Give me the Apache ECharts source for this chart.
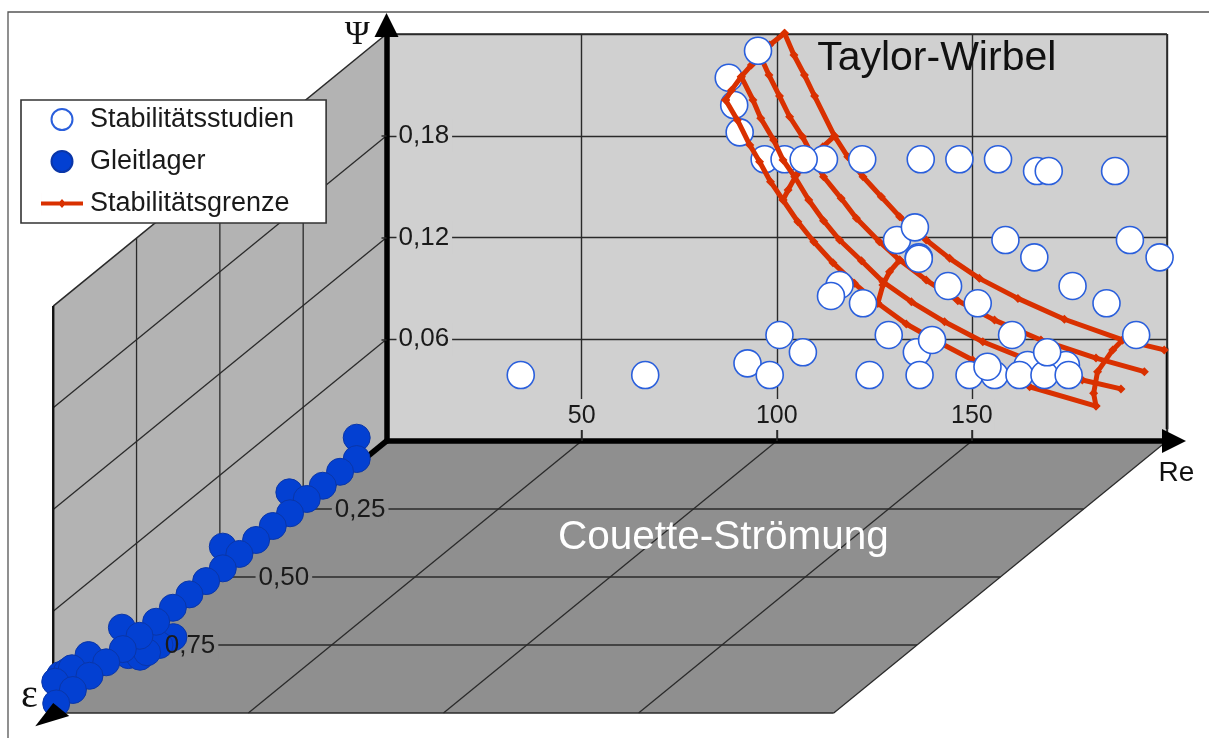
<!DOCTYPE html>
<html><head><meta charset="utf-8">
<style>html,body{margin:0;padding:0;background:#fff}#c{width:1209px;height:738px}</style>
<script src="https://cdn.jsdelivr.net/npm/echarts@6/dist/echarts.min.js"></script>
</head><body><div id="c"></div>
<script>
// --- tick values ---
const reTicks = [50, 100, 150];
const epsTicks = [0.25, 0.5, 0.75];
const psiTicks = [0.06, 0.12, 0.18];
const reMax = 200, psiMax = 0.24;

// --- Stabilitaetsstudien [Re, Psi] on the back wall (below / above the red lines) ---
const studienUnten = [[87.7,.2142],[89.1,.1981],[90.5,.182],[96.9,.1661],[102,.1661]];
const studienOben = [[34.4,.0389],[66.3,.0389],[95.2,.2301],[112.1,.1661],[106.9,.1661],[121.9,.1661],[136.9,.1661],[146.8,.1661],
 [156.7,.1661],[166.7,.1592],[169.7,.1592],[186.7,.1592],[130.8,.1185],[135.4,.126],[158.6,.1185],[190.5,.1185],
 [198.1,.1083],[166,.1083],[136.4,.1083],[136.4,.1075],[116.1,.092],[113.9,.0855],[122.1,.0812],[143.9,.0914],[151.5,.0812],
 [175.8,.0914],[184.5,.0812],[192.1,.0625],[100.7,.0625],[128.7,.0625],[160.3,.0625],[106.7,.0523],[135.9,.0523],[139.8,.0596],
 [92.5,.0458],[98.2,.0389],[123.8,.0389],[136.6,.0389],[164.3,.0448],[174.1,.0448],[149.4,.0389],[155.8,.0389],[162.2,.0389],
 [168.6,.0389],[174.8,.0389],[154,.0438],[169.3,.0523]];

// --- Gleitlager [Re, eps, Psi] ---
const gleitlager = [[0,.0894,.0163],[0,.0894,.0037],[0,.1394,.0042],[0,.1913,.0043],[0,.2915,.0165],[0,.2393,.0042],[0,.2894,.0038],
 [0,.3412,.0046],[0,.3913,.0044],[0,.4912,.0165],[0,.4414,.0042],[0,.4912,.0037],[0,.5412,.0042],[0,.5913,.0044],[0,.6411,.0045],
 [9.1,.746,.004],[8,.775,.004],[3.2,.812,.004],[6.7,.818,.004],[7.1,.8015,.004],[0,.6912,.0043],[0,.794,.0173],[0,.741,.004],[0,.7912,.0042],
 [0,.8942,.0172],[0,.841,.0044],[0,.979,.019],[0,.959,.0177],[0,.944,.0174],[0,.994,.0175],[0,.8912,.0045],[0,.941,.0041],[0,.991,.0042]];

// --- Stabilitaetsgrenze [Re, Psi] ---
const kurveA = [[102,.2404],[104.4,.2276],[107.1,.2158],[109.7,.2034],[114.8,.1798],[118.2,.1676],[122.1,.1558],[126.8,.144],[131.5,.1323],[138.3,.1185],[144.3,.1077],[151.9,.0959],[161.8,.0841],[173.7,.0718],[188.6,.0596],[199.3,.0537]];
const kurveB = [[95.1,.2305],[98,.2158],[100.7,.2034],[103.3,.1912],[106.6,.1794],[112,.1558],[116.5,.1431],[120.4,.1313],[126.3,.1175],[131.5,.1067],[138.3,.0949],[146.4,.0827],[155.8,.0713],[167.7,.0596],[181.8,.0489],[194.2,.0409]];
const kurveC = [[90.9,.2148],[93.9,.2011],[95.9,.1903],[99.2,.1775],[101.6,.1657],[104.6,.1558],[108.2,.1421],[112,.1299],[116.1,.1185],[121.7,.1063],[127.2,.0939],[134.5,.0821],[143,.0703],[152.8,.0585],[165.5,.0468],[178.3,.036],[188.2,.0307]];
const kurveD = [[86.9,.2011],[89.9,.1893],[93.1,.1745],[95.6,.1647],[98.4,.1529],[101.6,.1421],[105.4,.1293],[109.5,.1175],[114.4,.1051],[119.9,.093],[125.9,.0812],[133.2,.069],[141.3,.0585],[150.2,.0478],[164.8,.032],[181.8,.0206]];
const verbindung1 = [[102,.2404],[98.2,.2335],[93.5,.2217],[90.9,.2148],[88.4,.2069],[86.9,.2011]];
const verbindung2 = [[114.8,.1798],[111.8,.1735],[105,.1568],[102.9,.148],[101.6,.1421]];
const verbindung3 = [[131.5,.1067],[128.9,.0998],[127.2,.092],[125.9,.0812]];
const verbindung4 = [[188.6,.0596],[186.1,.0537],[182.2,.0409],[181.2,.0281],[181.8,.0206]];

// oblique projection of (Re, eps, Psi) into the back wall's axis units
const project = (re, eps, psi) => [re - 85.4 * eps, psi - 0.1604 * eps];

const fmt = v => v.toFixed(2).replace('.', ',');
const DARK = '#2a2a2a';
const sans = '"Liberation Sans", Arial, sans-serif';
const serif = '"Liberation Serif", serif';
const epsLabelRe = [14.6, 16.4, 13.7];

function seg(api, a, b, width, color) {
  const p = api.coord(project(...a)), q = api.coord(project(...b));
  return {type:'line', shape:{x1:p[0],y1:p[1],x2:q[0],y2:q[1]}, style:{stroke:color||DARK, lineWidth:width||1.3}};
}
function poly(api, pts, fill) {
  return {type:'polygon', shape:{points:pts.map(p=>api.coord(project(...p)))}, style:{fill:fill}};
}
function label(api, at, text, o) {
  const p = api.coord(project(...at));
  return {type:'text', x:p[0], y:p[1], z2:10, style:Object.assign({text:text, font:'26px '+sans, fill:'#1a1a1a', align:'center', verticalAlign:'middle'}, o||{})};
}
function renderBase(params, api) {
  const c = [];
  c.push(poly(api, [[0,0,0],[reMax,0,0],[reMax,0,psiMax],[0,0,psiMax]], '#d0d0d0'));
  c.push(poly(api, [[0,0,0],[0,1,0],[0,1,psiMax],[0,0,psiMax]], '#b3b3b3'));
  c.push(poly(api, [[0,0,0],[reMax,0,0],[reMax,1,0],[0,1,0]], '#8f8f8f'));
  psiTicks.forEach(v => c.push(seg(api,[0,0,v],[0,1,v])));
  epsTicks.forEach(v => c.push(seg(api,[0,v,0],[0,v,psiMax])));
  epsTicks.forEach(v => c.push(seg(api,[0,v,0],[reMax,v,0])));
  reTicks.forEach(v => c.push(seg(api,[v,0,0],[v,1,0])));
  c.push(seg(api,[0,0,psiMax],[0,1,psiMax],1.6));
  c.push(seg(api,[0,1,0],[0,1,psiMax],2.4,'#111'));
  c.push(seg(api,[0,1,0],[reMax,1,0],1.6));
  c.push(seg(api,[reMax,0,0],[reMax,1,0],1.3));
  c.push(seg(api,[0,0,psiMax],[reMax,0,psiMax],1.6));
  c.push(seg(api,[reMax,0,0],[reMax,0,psiMax],1.6));
  c.push(seg(api,[reMax,0,0.007],[reMax,0,0.055],2.6,'#000'));
  c.push(seg(api,[0,0,0],[0,1,0],5.5,'#000'));
  // gaps in the floor's grid lines behind the tick labels
  epsTicks.forEach((v,i) => c.push(label(api,[epsLabelRe[i],v,-0.0006],fmt(v),{fill:'#8f8f8f',backgroundColor:'#8f8f8f',padding:[0,3]})));
  c.push(label(api,[115.8,0.345,-0.002],'Couette-Strömung',{font:'40.5px '+sans,fill:'#fff'}));
  return {type:'group', children:c};
}
function renderTop(params, api) {
  const tip = api.coord(project(0,1.045,0)), l = api.coord(project(0,0.985,0));
  const c = [{type:'polygon', shape:{points:[[tip[0]-3,tip[1]+1],[l[0]-5,l[1]-6],[l[0]+11,l[1]+7]]}, style:{fill:'#000'}}];
  epsTicks.forEach((v,i) => c.push(label(api,[epsLabelRe[i],v,-0.0006],fmt(v))));
  return {type:'group', children:c};
}
function renderText(params, api) {
  return {type:'group', children:[
    label(api,[141,0,0.2253],'Taylor-Wirbel',{font:'41px '+sans,fill:'#111'}),
    label(api,[202.4,0,-0.019],'Re',{font:'28px '+sans,fill:'#111'}),
    label(api,[-7.5,0,0.2395],'Ψ',{font:'34px '+serif,fill:'#111'}),
    label(api,[-91.5,0,-0.1505],'ε',{font:'40px '+serif,fill:'#111'})
  ]};
}
const red = {color:'#d93000', width:5};
function redLine(data){
  return {name:'Stabilitätsgrenze', type:'line', data:data, z:3, symbol:'diamond', symbolSize:9, clip:false,
    lineStyle:{color:red.color,width:red.width}, itemStyle:{color:red.color}};
}
const white = {color:'#fff', borderColor:'#2a5fdc', borderWidth:1.6, opacity:1};
const chart = echarts.init(document.getElementById('c'));
chart.setOption({
  animation:false,
  graphic:[{type:'rect', z:-100, shape:{x:8,y:12,width:1400,height:900}, style:{fill:'none',stroke:'#555',lineWidth:1.3}}],
  grid:{left:386.5,right:42,top:34,bottom:297},
  legend:{
    left:21, top:100, orient:'vertical', z:20,
    data:['Stabilitätsstudien','Gleitlager',
      {name:'Stabilitätsgrenze', icon:'path://M0 0H0.01V21H0Z M0 8.5H42V12.5H0Z M21 6L25 10.5L21 15L17 10.5Z'}],
    padding:[6,32,6,20], itemWidth:42, itemHeight:21, itemGap:15,
    backgroundColor:'#fff', borderColor:'#333', borderWidth:1.6, borderRadius:0,
    textStyle:{fontFamily:sans,fontSize:27,color:'#1a1a1a',padding:[0,0,0,2]}
  },
  xAxis:{type:'value',min:0,max:reMax,interval:50,
    axisLine:{show:true,onZero:false,symbol:['none','triangle'],symbolSize:[24,24],symbolOffset:[0,7],lineStyle:{color:'#000',width:5.5}},
    axisTick:{show:true,inside:true,length:11,lineStyle:{color:DARK,width:1.5}},
    splitLine:{show:true,lineStyle:{color:DARK,width:1.4}},
    axisLabel:{inside:true,margin:11,fontFamily:sans,fontSize:25,color:'#1a1a1a',showMinLabel:false,showMaxLabel:false,
      backgroundColor:'#d0d0d0',padding:[5,2,1,2]}},
  yAxis:{type:'value',min:0,max:psiMax,interval:0.06,
    axisLine:{show:true,onZero:false,symbol:['none','triangle'],symbolSize:[24,24],symbolOffset:[0,9],lineStyle:{color:'#000',width:5.5}},
    axisTick:{show:true,length:5,lineStyle:{color:DARK,width:1.5}},
    splitLine:{show:true,lineStyle:{color:DARK,width:1.4}},
    axisLabel:{inside:true,margin:10,fontFamily:sans,fontSize:26,color:'#1a1a1a',showMinLabel:false,showMaxLabel:false,
      backgroundColor:'#d0d0d0',padding:[8,3,0,2],formatter:fmt}},
  series:[
    {type:'custom',name:'waende',z:-1,data:[0],renderItem:renderBase,silent:true,clip:false},
    {type:'custom',name:'texte',z:1,data:[0],renderItem:renderText,silent:true,clip:false},
    {name:'Stabilitätsstudien',type:'scatter',z:2,data:studienUnten,symbolSize:27,clip:false,itemStyle:white},
    redLine(kurveA),redLine(kurveB),redLine(kurveC),redLine(kurveD),
    redLine(verbindung1),redLine(verbindung2),redLine(verbindung3),redLine(verbindung4),
    {name:'Stabilitätsstudien',type:'scatter',z:4,data:studienOben,symbolSize:27,clip:false,itemStyle:white},
    {name:'Gleitlager',type:'scatter',z:5,data:gleitlager.map(g=>project(g[0],g[1],g[2])),symbolSize:27,clip:false,
      itemStyle:{color:'#0340d2',borderColor:'#0a36a8',borderWidth:1,opacity:1}},
    {type:'custom',name:'pfeil',z:6,data:[0],renderItem:renderTop,silent:true,clip:false}
  ]
});
</script></body></html>
